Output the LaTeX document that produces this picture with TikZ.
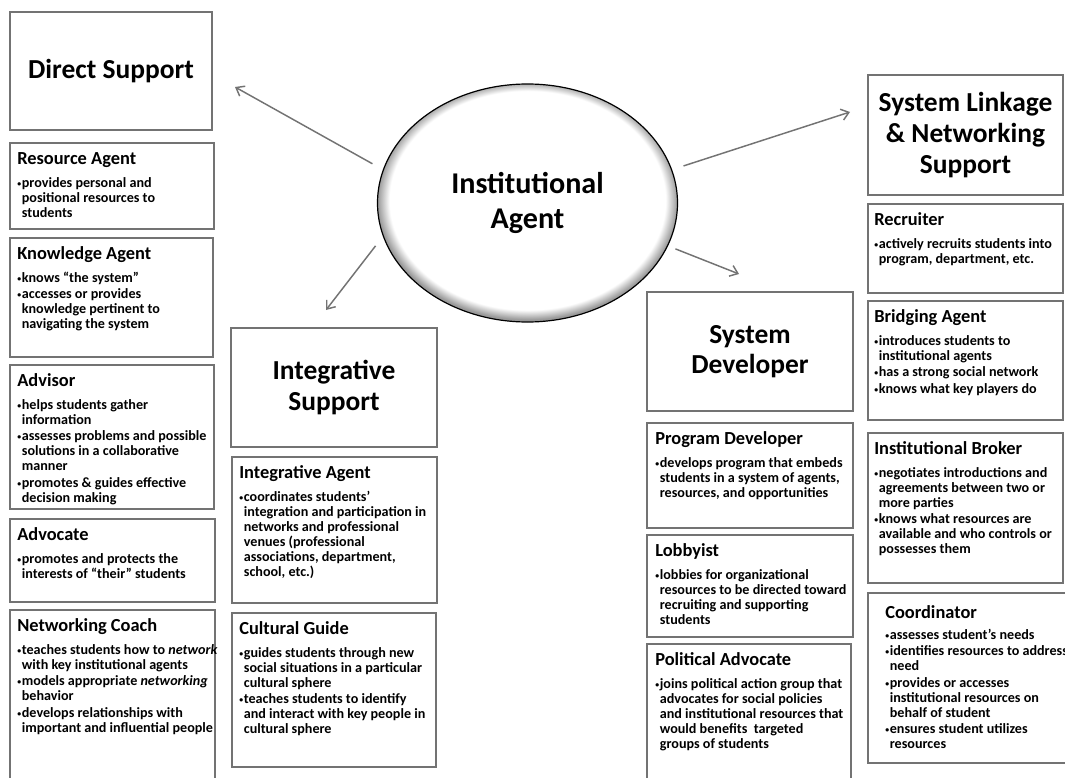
\documentclass[tikz,border=0pt]{standalone}
\usepackage{fontspec}
\setmainfont{Carlito}
\usetikzlibrary{shapes.geometric,arrows.meta,fit,shadows,calc}

% one unit of the drawing grid
\newlength\px
\setlength\px{0.75pt}

% white ellipse with a thin grey rim
\pgfdeclareradialshading{rimglow}{\pgfpoint{0bp}{1bp}}{%
  color(0bp)=(white); color(23bp)=(white); color(25bp)=(black!40); color(50bp)=(black!40)}

\tikzset{
  panel/.style={draw=black!55, line width=1pt, fill=white, inner sep=0pt, outer sep=0pt,
    drop shadow={shadow xshift=0.9pt, shadow yshift=-0.9pt, fill=black, opacity=0.35}},
  titletext/.style={font=\fontsize{20.6}{23}\selectfont\bfseries, align=center, inner sep=0pt},
  headtext/.style={anchor=base west, inner sep=0pt, font=\fontsize{13.8}{15}\selectfont\bfseries},
  bodytext/.style={anchor=base west, inner sep=0pt, font=\fontsize{10.6}{11.25}\selectfont\bfseries},
  hub/.style={ellipse, minimum width=300\px, minimum height=238\px, inner sep=0pt,
    shade, shading=rimglow, draw=black, line width=0.9pt, align=center,
    font=\fontsize{22.6}{26}\selectfont\bfseries},
  link/.style={draw=black!55, line width=1.1pt,
    -{Straight Barb[length=5.5pt, width=8.5pt, line width=1.1pt]}}
}

\newcommand\headdrop{21}
\newcommand\bodydrop{44}

% bulleted item with hanging indent
\newcommand\itm[1]{\par\hangindent=4.6\px\hangafter=1\noindent
  \makebox[4.6\px][l]{\raisebox{0.12ex}{\scalebox{0.55}{\textbullet}}}#1}

% name, x1, y1, x2, y2, text inset, heading, items
\newcommand\rolebox[8]{%
  \node[panel, fit={(#2,#3) (#4,#5)}] (#1) {};
  \node[headtext] (#1-head) at ([xshift=#6\px, yshift=-\headdrop\px]#1.north west) {#7};
  \node[bodytext] (#1-body) at ([xshift=#6\px, yshift=-\bodydrop\px]#1.north west)
    {\parbox[t]{260\px}{\raggedright\setlength\parskip{1.6\px}#8}};
}

% name, x1, y1, x2, y2, title
\newcommand\titlebox[6]{%
  \node[panel, fit={(#2,#3) (#4,#5)}] (#1) {};
  \node[titletext] (#1-title) at (#1.center) {#6};
}

\begin{document}
\begin{tikzpicture}[x=1\px, y=-1\px]
  \useasboundingbox (0,0) rectangle (1065,778);
  \clip (0,0) rectangle (1065,778);

  % ---- direct support column
  \titlebox{ds}{10}{12}{212}{130}{Direct Support}
  \rolebox{ra}{10}{143}{214}{229}{7}{Resource Agent}
    {\itm{provides personal and\newline positional resources to\newline students}}
  \rolebox{ka}{10}{238}{213}{357}{7}{Knowledge Agent}
    {\itm{knows “the system”}
     \itm{accesses or provides\newline knowledge pertinent to\newline navigating the system}}
  \rolebox{adv}{10}{365}{214}{509}{7}{Advisor}
    {\itm{helps students gather\newline information}
     \itm{assesses problems and possible\newline solutions in a collaborative\newline manner}
     \itm{promotes \& guides effective\newline decision making}}
  \rolebox{advo}{10}{519}{215}{602}{7}{Advocate}
    {\itm{promotes and protects the\newline interests of “their” students}}
  \rolebox{nc}{10}{610}{215}{790}{7}{Networking Coach}
    {\itm{teaches students how to \textit{network}\newline with key institutional agents}
     \itm{models appropriate \textit{networking}\newline behavior}
     \itm{develops relationships with\newline important and influential people}}

  % ---- integrative support column
  \titlebox{is}{231}{328}{437}{447}{Integrative\\Support}
  \rolebox{iag}{232}{457}{437}{603}{7}{Integrative Agent}
    {\itm{coordinates students’\newline integration and participation in\newline networks and professional\newline venues (professional\newline associations, department,\newline school, etc.)}}
  \rolebox{cg}{232}{613}{436}{767}{7}{Cultural Guide}
    {\itm{guides students through new\newline social situations in a particular\newline cultural sphere}
     \itm{teaches students to identify\newline and interact with key people in\newline cultural sphere}}

  % ---- system developer column
  \titlebox{sd}{647}{292}{853}{411}{System\\Developer}
  \rolebox{pd}{647}{423}{853}{528}{8}{Program Developer}
    {\itm{develops program that embeds\newline students in a system of agents,\newline resources, and opportunities}}
  \rolebox{lob}{647}{535}{853}{637}{8}{Lobbyist}
    {\itm{lobbies for organizational\newline resources to be directed toward\newline recruiting and supporting\newline students}}
  \rolebox{pa}{647}{644}{851}{790}{8}{Political Advocate}
    {\itm{joins political action group that\newline advocates for social policies\newline and institutional resources that\newline would benefits\ \ targeted\newline groups of students}}

  % ---- system linkage column
  \titlebox{sl}{868}{75}{1063}{195}{System Linkage\\\& Networking\\Support}
  \rolebox{rec}{868}{204}{1063}{293}{6}{Recruiter}
    {\itm{actively recruits students into\newline program, department, etc.}}
  \rolebox{ba}{868}{301}{1063}{420}{6}{Bridging Agent}
    {\itm{introduces students to\newline institutional agents}
     \itm{has a strong social network}
     \itm{knows what key players do}}
  \rolebox{ib}{868}{433}{1063}{583}{6}{Institutional Broker}
    {\itm{negotiates introductions and\newline agreements between two or\newline more parties}
     \itm{knows what resources are\newline available and who controls or\newline possesses them}}
  \begin{scope}
    \renewcommand\headdrop{25}\renewcommand\bodydrop{46}
    \rolebox{coo}{868}{593}{1075}{763}{17}{Coordinator}
      {\itm{assesses student’s needs}
       \itm{identifies resources to address\newline need}
       \itm{provides or accesses\newline institutional resources on\newline behalf of student}
       \itm{ensures student utilizes\newline resources}}
  \end{scope}

  % ---- central agent and its four links
  \node[hub] (ia) at (527.5,203) {Institutional\\Agent};
  \coordinate (t1) at (235,87);
  \coordinate (t2) at (326,310);
  \coordinate (t3) at (850,112);
  \coordinate (t4) at (739,274);
  \draw[link, shorten <=12\px] (ia.167) -- (t1);
  \draw[link, shorten <=12\px] (ia.193) -- (t2);
  \draw[link, shorten <=12\px] (ia.13) -- (t3);
  \draw[link, shorten <=8\px] (ia.-17) -- (t4);
\end{tikzpicture}
\end{document}
